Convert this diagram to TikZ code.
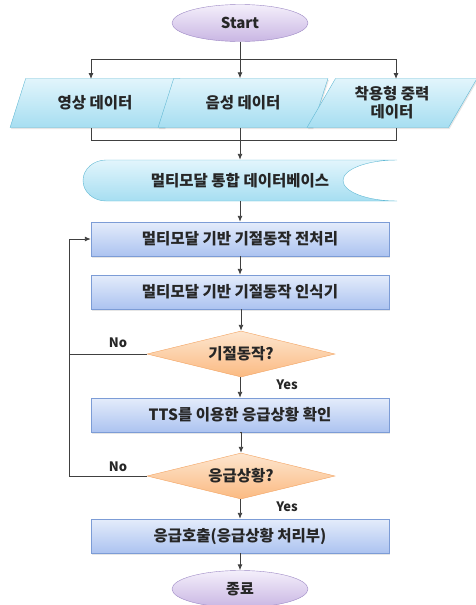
\documentclass[tikz,border=0pt]{standalone}
\usepackage{fontspec}
\setmainfont{Noto Sans CJK KR}
\usetikzlibrary{shapes.geometric,arrows.meta,shadows}

\definecolor{lineGray}{HTML}{404040}
\definecolor{purpleTop}{HTML}{F4EFFB}
\definecolor{purpleBot}{HTML}{C9B6E3}
\definecolor{purpleLine}{HTML}{9C88C4}
\definecolor{cyanTop}{HTML}{E2F5FC}
\definecolor{cyanBot}{HTML}{A6DEF1}
\definecolor{cyanLine}{HTML}{62B9D4}
\definecolor{blueTop}{HTML}{E4ECFB}
\definecolor{blueBot}{HTML}{ACC3F0}
\definecolor{blueLine}{HTML}{7C9CD6}
\definecolor{orangeTop}{HTML}{FDE6CF}
\definecolor{orangeBot}{HTML}{FBBA82}
\definecolor{orangeLine}{HTML}{F3A463}

\begin{document}
\begin{tikzpicture}[x=1pt, y=-1pt,
    every node/.style={font=\fontsize{15.5}{18}\selectfont\bfseries, text=black!85, inner sep=0pt},
    terminal/.style={ellipse, draw=purpleLine, top color=purpleTop, bottom color=purpleBot,
        minimum width=136, minimum height=37, font=\fontsize{15}{18}\selectfont\bfseries},
    inbox/.style={trapezium, trapezium left angle=60, trapezium right angle=120,
        trapezium stretches=true, draw=cyanLine, top color=cyanTop, bottom color=cyanBot,
        minimum width=170, minimum height=49, align=center,
        drop shadow={opacity=0.2, shadow xshift=1pt, shadow yshift=-1.5pt}},
    procbox/.style={rectangle, draw=blueLine, top color=blueTop, bottom color=blueBot,
        minimum width=298, minimum height=34,
        drop shadow={opacity=0.2, shadow xshift=1pt, shadow yshift=-1.5pt}},
    decision/.style={diamond, aspect=4, draw=orangeLine, top color=orangeTop, bottom color=orangeBot,
        minimum width=188, minimum height=46},
    tag/.style={font=\fontsize{13}{15}\selectfont\bfseries},
    line/.style={draw=lineGray, line width=0.9pt},
    arr/.style={line, -{Latex[length=6pt,width=5pt]}}]

    \useasboundingbox (0,0) rectangle (476,605);

    % Nodes
    \node[terminal] (start) at (240,23) {Start};
    \node[inbox] (in1) at (95,103) {영상 데이터};
    \node[inbox] (in2) at (243,103) {음성 데이터};
    \node[inbox] (in3) at (392,103) {착용형 중력\\데이터};

    % stored data shape, drawn by hand round its text node
    \path[draw=cyanLine, top color=cyanTop, bottom color=cyanBot]
        (397,160) -- (106,160) arc[start angle=270, end angle=90, x radius=23, y radius=20.5]
        -- (397,201) arc[start angle=90, end angle=270, x radius=54, y radius=20.5] -- cycle;
    \node[minimum width=314, minimum height=41] (db) at (240,180.5) {멀티모달 통합 데이터베이스};

    \node[procbox] (pre) at (240,239) {멀티모달 기반 기절동작 전처리};
    \node[procbox] (rec) at (240,292) {멀티모달 기반 기절동작 인식기};
    \node[decision] (faint) at (241,354) {기절동작?};
    \node[procbox] (tts) at (240,415) {TTS를 이용한 응급상황 확인};
    \node[decision] (emerg) at (241,476) {응급상황?};
    \node[procbox] (call) at (240,536) {응급호출(응급상황 처리부)};
    \node[terminal] (stop) at (240,589) {종료};

    \node[tag] (no1) at (118,343) {No};
    \node[tag] (yes1) at (287,385) {Yes};
    \node[tag] (no2) at (118,467) {No};
    \node[tag] (yes2) at (287,507) {Yes};

    \coordinate (split) at (240,59);
    \coordinate (merge) at (240,140);
    \coordinate (loop) at (69,239);

    % Lines
    \draw[line] (start) -- (split);
    \draw[arr] (split) -| (91,79);
    \draw[arr] (split) -- (split |- in2.north);
    \draw[arr] (split) -| (396,79);

    \draw[line] (91,128) |- (merge);
    \draw[line] (in2.south -| merge) -- (merge);
    \draw[line] (396,128) |- (merge);
    \draw[arr] (merge) -- (db.north);

    \draw[arr] (db.south) -- (pre);
    \draw[arr] (pre) -- (rec);
    \draw[arr] (rec) -- (rec.south -| faint.north) -- (faint.north);
    \draw[arr] (faint.south) -- (faint.south -| tts.north) -- (tts.north);
    \draw[arr] (tts.south) -- (tts.south -| emerg.north) -- (emerg.north);
    \draw[arr] (emerg.south) -- (emerg.south -| call.north) -- (call.north);
    \draw[arr] (call) -- (stop);

    \draw[arr] (faint.west) -| (loop) -- (pre.west);
    \draw[line] (emerg.west) -| (loop);

\end{tikzpicture}
\end{document}
